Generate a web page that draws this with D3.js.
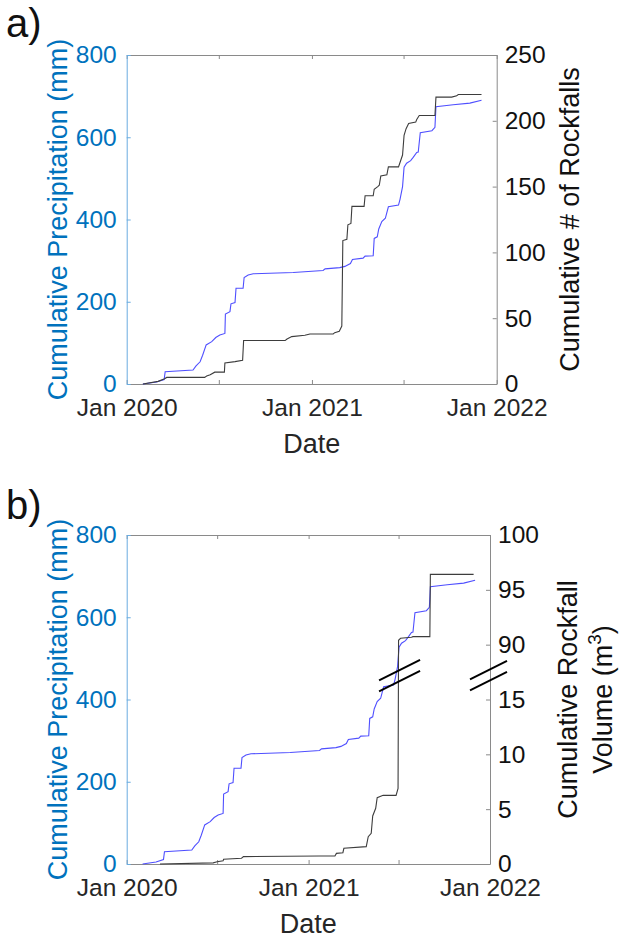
<!DOCTYPE html>
<html>
<head>
<meta charset="utf-8">
<script src="https://cdn.jsdelivr.net/npm/d3@7/dist/d3.min.js"></script>
<style>
  body { margin: 0; background: #ffffff; }
  svg { display: block; }
  text { font-family: "Liberation Sans", Arial, Helvetica, sans-serif; }
</style>
</head>
<body>
<svg id="chart" width="620" height="939"></svg>
<script>
// ---- Cumulative precipitation (mm) ----
const precipDates = [
  "2020-02-02","2020-02-29","2020-03-15","2020-03-17","2020-05-11","2020-05-17","2020-05-25","2020-05-30",
  "2020-06-06","2020-06-17","2020-06-25","2020-07-03","2020-07-13","2020-07-14","2020-07-23","2020-07-25",
  "2020-08-02","2020-08-04","2020-08-18","2020-08-20","2020-08-28","2020-09-07","2020-11-25","2021-01-23",
  "2021-01-27","2021-02-25","2021-03-07","2021-03-18","2021-03-22","2021-04-12","2021-04-16","2021-05-02",
  "2021-05-04","2021-05-10","2021-05-13","2021-05-19","2021-05-26","2021-06-01","2021-06-21","2021-06-24",
  "2021-06-29","2021-07-02","2021-07-07","2021-07-15","2021-07-20","2021-07-27","2021-07-30","2021-08-03",
  "2021-08-26","2021-09-01","2021-09-03","2021-10-07","2021-11-09","2021-12-02"
];
const precipMm = [
  0, 5, 11, 30, 34, 44, 54, 70,
  95, 103, 113, 119, 123, 170, 176, 195,
  198, 233, 233, 259, 265, 268, 271, 276,
  280, 283, 286, 293, 303, 306, 311, 312,
  354, 358, 377, 395, 403, 431, 435, 449,
  480, 527, 537, 543, 551, 563, 564, 611,
  616, 624, 674, 679, 683, 690
];

// ---- Cumulative number of rockfalls ----
const countDates = [
  "2020-02-02","2020-03-03","2020-03-16","2020-03-20","2020-06-03","2020-06-07","2020-06-14","2020-06-23",
  "2020-07-12","2020-07-13","2020-08-02","2020-08-17","2020-08-19","2020-11-09","2020-11-12","2020-11-22",
  "2020-12-18","2020-12-28","2021-02-12","2021-02-15","2021-02-24","2021-03-01","2021-03-03","2021-03-11",
  "2021-03-13","2021-03-19","2021-03-21","2021-04-14","2021-04-16","2021-05-02","2021-05-04","2021-05-11",
  "2021-05-14","2021-05-17","2021-05-29","2021-06-01","2021-06-21","2021-06-29","2021-07-02","2021-07-06",
  "2021-07-11","2021-07-25","2021-07-27","2021-08-01","2021-09-01","2021-09-03","2021-10-04","2021-10-14",
  "2021-10-17","2021-12-02"
];
const countVals = [
  0, 2, 4, 5, 5, 6, 7, 9,
  9, 16, 17, 18, 33, 33, 34, 36,
  37, 38, 38, 39, 40, 44, 109, 110,
  121, 122, 135, 135, 143, 143, 148, 150,
  151, 158, 159, 165, 165, 174, 189, 194,
  198, 199, 201, 204, 204, 218, 218, 219,
  220, 220
];

// ---- Cumulative rockfall volume (m^3) ----
const volDates = [
  "2020-03-08","2020-06-23","2020-07-01","2020-07-13","2020-07-14","2020-08-19","2020-08-23","2021-01-24",
  "2021-02-23","2021-02-26","2021-03-11","2021-03-13","2021-04-27","2021-05-01","2021-05-07","2021-05-10",
  "2021-05-16","2021-05-19","2021-05-31","2021-06-26","2021-06-30","2021-07-01","2021-07-05","2021-07-27",
  "2021-07-30","2021-09-02","2021-09-03","2021-11-29"
];
const volVals = [
  0, 0.1, 0.2, 0.3, 0.43, 0.52, 0.67, 0.73,
  0.73, 0.97, 1.03, 1.43, 1.58, 2.49, 2.8, 4.38,
  5.08, 6.05, 6.26, 6.26, 6.9, 90.4, 90.58, 90.67,
  90.73, 90.73, 96.41, 96.41
];

// ---- Axes ----
const dateDomain = ["2020-01-01", "2022-01-01"];
const dateTicks = ["2020-01-01", "2020-07-01", "2021-01-01", "2021-07-01", "2022-01-01"];
const dateTickLabels = ["Jan 2020", "", "Jan 2021", "", "Jan 2022"];
const precipTicks = [0, 200, 400, 600, 800];
const countTicks = [0, 50, 100, 150, 200, 250];
const volTicks = [0, 5, 10, 15, 90, 95, 100];
const volBreak = [17.5, 87.5];      // gap removed from the volume axis
const volBreakDate = "2021-07-01";  // where the volume line crosses the gap

const parse = d3.timeParse("%Y-%m-%d");
const BLUE_TXT = "#0072BD", BLUE_AXIS = "#6aace0", GREY = "#8a8a8a", DARK = "#262626";
const PRECIP_LINE = "#4f4fff", ROCK_LINE = "#3d3d3d";
const TICK_FS = 24.5, LABEL_FS = 27;

const svg = d3.select("#chart");

function styleAxis(g, lineColor, textColor) {
  g.attr("font-family", null).attr("font-size", null);
  g.select(".domain").attr("stroke", lineColor).attr("stroke-width", 1);
  g.selectAll(".tick line").attr("stroke", lineColor).attr("stroke-width", 1);
  g.selectAll(".tick text").attr("fill", textColor).attr("font-size", TICK_FS);
}

function panel(box, rightScale, rightTicks, letter) {
  const { left, right, top, bottom } = box;
  const x = d3.scaleTime().domain(dateDomain.map(parse)).range([left, right]);
  const yP = d3.scaleLinear().domain([0, 800]).range([bottom, top]);
  const g = svg.append("g");

  // top frame with mirrored ticks
  g.append("g").attr("transform", `translate(0,${top})`)
    .call(d3.axisTop(x).tickValues(dateTicks.map(parse)).tickFormat("").tickSize(-4).tickSizeOuter(0))
    .call(a => styleAxis(a, GREY, DARK));

  // bottom date axis
  g.append("g").attr("transform", `translate(0,${bottom})`)
    .call(d3.axisBottom(x).tickValues(dateTicks.map(parse))
      .tickFormat((d, i) => dateTickLabels[i]).tickSize(-4).tickSizeOuter(0).tickPadding(15))
    .call(a => styleAxis(a, GREY, DARK));

  // right axis
  const yR = rightScale(bottom, top);
  const ra = g.append("g").attr("transform", `translate(${right},0)`)
    .call(d3.axisRight(yR).tickValues(rightTicks).tickSize(-4).tickSizeOuter(0).tickPadding(8))
    .call(a => styleAxis(a, GREY, "#111"));

  // left precipitation axis
  g.append("g").attr("transform", `translate(${left},0)`)
    .call(d3.axisLeft(yP).tickValues(precipTicks).tickSize(-4).tickSizeOuter(0).tickPadding(10))
    .call(a => styleAxis(a, BLUE_AXIS, BLUE_TXT));

  // series
  const precipPts = precipDates.map((d, i) => [x(parse(d)), yP(precipMm[i])]);
  g.append("path").attr("d", d3.line()(precipPts))
    .attr("fill", "none").attr("stroke", PRECIP_LINE).attr("stroke-width", 1.1);

  // panel letter and axis titles
  svg.append("text").attr("x", 6).attr("y", box.letterY)
    .attr("font-size", 40).attr("fill", "#111").text(letter);
  svg.append("text")
    .attr("transform", `translate(${left - 60},${(top + bottom) / 2}) rotate(-90)`)
    .attr("text-anchor", "middle").attr("font-size", LABEL_FS).attr("fill", BLUE_TXT)
    .text("Cumulative Precipitation (mm)");
  svg.append("text").attr("x", (left + right) / 2).attr("y", bottom + 69)
    .attr("text-anchor", "middle").attr("font-size", LABEL_FS).attr("fill", DARK).text("Date");

  return { g, x, yR };
}

// ---- a) rockfall count ----
const boxA = { left: 126.7, right: 496.7, top: 55, bottom: 384, letterY: 37 };
const pa = panel(boxA, (b, t) => d3.scaleLinear().domain([0, 250]).range([b, t]), countTicks, "a)");
pa.g.append("path")
  .attr("d", d3.line()(countDates.map((d, i) => [pa.x(parse(d)), pa.yR(countVals[i])])))
  .attr("fill", "none").attr("stroke", ROCK_LINE).attr("stroke-width", 1.1);
// keep precipitation on top
pa.g.select("path:last-of-type").lower();
svg.append("text")
  .attr("transform", `translate(579,${(boxA.top + boxA.bottom) / 2}) rotate(-90)`)
  .attr("text-anchor", "middle").attr("font-size", LABEL_FS).attr("fill", "#111")
  .text("Cumulative # of Rockfalls");

// ---- b) rockfall volume with a broken axis ----
const boxB = { left: 126.7, right: 490, top: 535, bottom: 864, letterY: 519 };
const volScale = (b, t) => {
  const k = (b - t) / (volBreak[0] + (100 - volBreak[1]));
  const yBreak = b - volBreak[0] * k;
  return d3.scaleLinear().domain([0, volBreak[0], volBreak[1], 100]).range([b, yBreak, yBreak, t]);
};
const pb = panel(boxB, volScale, volTicks, "b)");
pb.g.append("path")
  .attr("d", d3.line()(volDates.map((d, i) => [pb.x(parse(d)), pb.yR(volVals[i])])))
  .attr("fill", "none").attr("stroke", ROCK_LINE).attr("stroke-width", 1.1);
pb.g.select("path:last-of-type").lower();

// break markers: pairs of slanted strokes on the line and on the right axis
const yGap = pb.yR(volBreak[0]) + 3.5;
function breakMark(cx, half) {
  [-5.5, 5.5].forEach(off => {
    svg.append("line")
      .attr("x1", cx - half).attr("y1", yGap + off + half * 0.5)
      .attr("x2", cx + half).attr("y2", yGap + off - half * 0.5)
      .attr("stroke", "#000").attr("stroke-width", 2);
  });
}
breakMark(pb.x(parse(volBreakDate)) + 1, 20.5);
breakMark(boxB.right - 1.5, 18.5);

const lblB = svg.append("text")
  .attr("transform", `translate(0,${(boxB.top + boxB.bottom) / 2}) rotate(-90)`)
  .attr("text-anchor", "middle").attr("font-size", LABEL_FS).attr("fill", "#111");
lblB.append("tspan").attr("x", 0).attr("y", 577).text("Cumulative Rockfall");
const l2 = lblB.append("tspan").attr("x", 0).attr("y", 612);
l2.append("tspan").text("Volume (m");
l2.append("tspan").attr("dy", -11).attr("font-size", 19).text("3");
l2.append("tspan").attr("dy", 11).text(")");
</script>
</body>
</html>
